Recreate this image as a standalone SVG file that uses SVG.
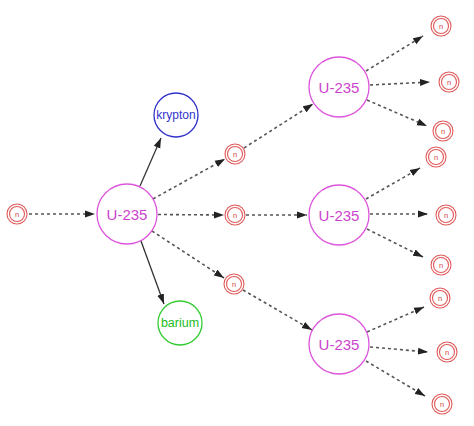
<svg xmlns="http://www.w3.org/2000/svg" width="474" height="426" viewBox="0 0 474 426">
<defs>
<marker id="ah" markerUnits="userSpaceOnUse" markerWidth="10" markerHeight="8" refX="10" refY="4" orient="auto">
<path d="M0,0.5 L10,4 L0,7.5 z" fill="#222"/>
</marker>
<style>
.n circle{fill:none;stroke:#e05858;stroke-width:1.1}
.n text{font-family:"Liberation Sans",Arial,sans-serif;font-size:7.5px;fill:#d84040;text-anchor:middle}
.u circle{fill:none;stroke:#dd55dd;stroke-width:1.3}
.u text{font-family:"Liberation Sans",Arial,sans-serif;font-size:15px;fill:#cc44cc;text-anchor:middle}
.kr circle{fill:none;stroke:#3333cc;stroke-width:1.3}
.kr text{font-family:"Liberation Sans",Arial,sans-serif;font-size:12px;fill:#3333cc;text-anchor:middle}
.ba circle{fill:none;stroke:#33cc33;stroke-width:1.3}
.ba text{font-family:"Liberation Sans",Arial,sans-serif;font-size:12.5px;fill:#22bb22;text-anchor:middle}
.d{stroke:#555;stroke-width:1.6;stroke-dasharray:3,3;fill:none;marker-end:url(#ah)}
.s{stroke:#333;stroke-width:1.3;fill:none;marker-end:url(#ah)}
</style>
</defs>
<rect width="474" height="426" fill="#fff"/>
<g id="connectors">
<line class="d" x1="29" y1="214" x2="95" y2="214"/>
<line class="s" x1="140" y1="186" x2="161" y2="138"/>
<line class="s" x1="141" y1="241" x2="164" y2="304"/>
<line class="d" x1="153" y1="199" x2="225" y2="159"/>
<line class="d" x1="158" y1="214.5" x2="224" y2="215"/>
<line class="d" x1="152" y1="231" x2="224" y2="278"/>
<line class="d" x1="244" y1="148" x2="313" y2="104"/>
<line class="d" x1="246" y1="215" x2="307" y2="215"/>
<line class="d" x1="243" y1="290" x2="312" y2="330"/>
<line class="d" x1="366" y1="71" x2="423" y2="36"/>
<line class="d" x1="370" y1="85" x2="430" y2="82"/>
<line class="d" x1="367" y1="100" x2="427" y2="126"/>
<line class="d" x1="366" y1="199" x2="420" y2="168"/>
<line class="d" x1="370" y1="214" x2="428" y2="214"/>
<line class="d" x1="367" y1="229" x2="423" y2="257"/>
<line class="d" x1="367" y1="332" x2="424" y2="307"/>
<line class="d" x1="370" y1="347" x2="428" y2="352"/>
<line class="d" x1="366" y1="361" x2="425" y2="396"/>
</g>
<g id="n0" class="n"><circle cx="17" cy="214" r="10"/><circle cx="17" cy="214" r="7.5"/><text x="17" y="216.7">n</text></g>
<g id="u0" class="u"><circle cx="127" cy="214" r="30"/><text x="127" y="219.5">U-235</text></g>
<g id="krypton" class="kr"><circle cx="176" cy="115" r="22"/><text x="176" y="119">krypton</text></g>
<g id="barium" class="ba"><circle cx="180" cy="323" r="22"/><text x="180" y="327">barium</text></g>
<g id="na" class="n"><circle cx="235" cy="154" r="10"/><circle cx="235" cy="154" r="7.5"/><text x="235" y="156.7">n</text></g>
<g id="nb" class="n"><circle cx="235" cy="215" r="10"/><circle cx="235" cy="215" r="7.5"/><text x="235" y="217.7">n</text></g>
<g id="nc" class="n"><circle cx="234" cy="284" r="10"/><circle cx="234" cy="284" r="7.5"/><text x="234" y="286.7">n</text></g>
<g id="u1" class="u"><circle cx="339" cy="87" r="30"/><text x="339" y="92.5">U-235</text></g>
<g id="u2" class="u"><circle cx="339" cy="215" r="30"/><text x="339" y="220.5">U-235</text></g>
<g id="u3" class="u"><circle cx="339" cy="344" r="30"/><text x="339" y="349.5">U-235</text></g>
<g id="n1" class="n"><circle cx="441" cy="26" r="10"/><circle cx="441" cy="26" r="7.5"/><text x="441" y="28.7">n</text></g>
<g id="n2" class="n"><circle cx="449" cy="82" r="10"/><circle cx="449" cy="82" r="7.5"/><text x="449" y="84.7">n</text></g>
<g id="n3" class="n"><circle cx="443" cy="131" r="10"/><circle cx="443" cy="131" r="7.5"/><text x="443" y="133.7">n</text></g>
<g id="n4" class="n"><circle cx="436" cy="157" r="10"/><circle cx="436" cy="157" r="7.5"/><text x="436" y="159.7">n</text></g>
<g id="n5" class="n"><circle cx="446" cy="215" r="10"/><circle cx="446" cy="215" r="7.5"/><text x="446" y="217.7">n</text></g>
<g id="n6" class="n"><circle cx="441" cy="265" r="10"/><circle cx="441" cy="265" r="7.5"/><text x="441" y="267.7">n</text></g>
<g id="n7" class="n"><circle cx="440" cy="298" r="10"/><circle cx="440" cy="298" r="7.5"/><text x="440" y="300.7">n</text></g>
<g id="n8" class="n"><circle cx="447" cy="352" r="10"/><circle cx="447" cy="352" r="7.5"/><text x="447" y="354.7">n</text></g>
<g id="n9" class="n"><circle cx="442" cy="404" r="10"/><circle cx="442" cy="404" r="7.5"/><text x="442" y="406.7">n</text></g>
</svg>
